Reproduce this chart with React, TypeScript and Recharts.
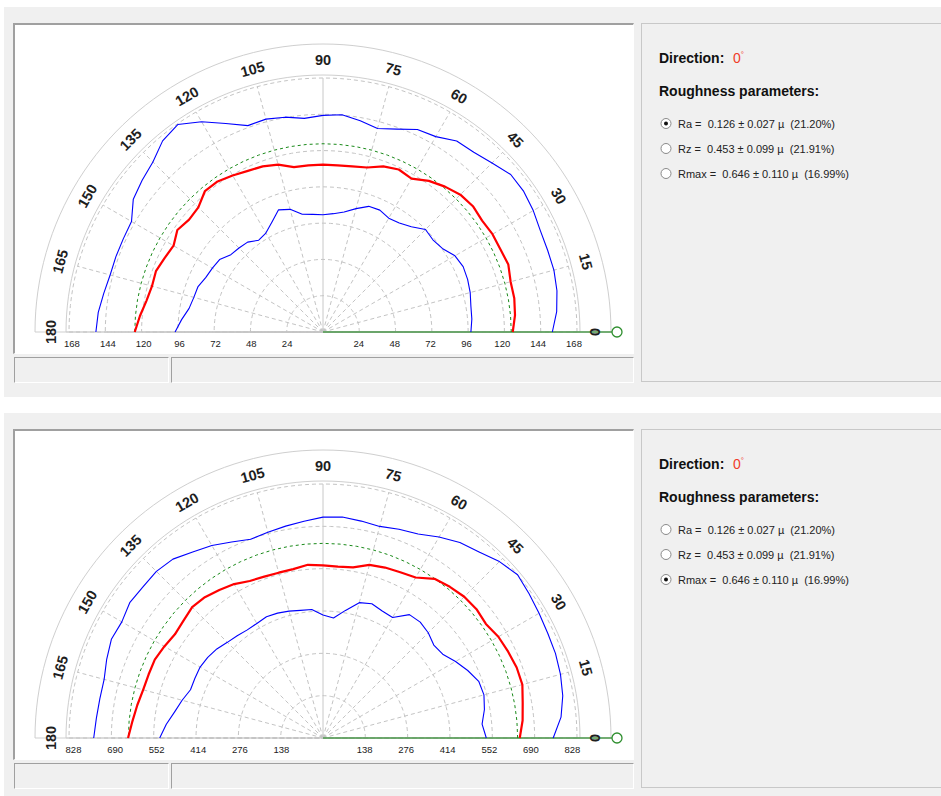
import React from 'react';
import { RadarChart, Radar, PolarGrid, PolarAngleAxis, PolarRadiusAxis } from 'recharts';

// directions, degrees
const ANGLES = [
  0, 5, 10, 15, 20, 25, 30, 35, 40, 45, 50, 55, 60, 65, 70, 75, 80, 85, 90,
  95, 100, 105, 110, 115, 120, 125, 130, 135, 140, 145, 150, 155, 160, 165, 170, 175, 180,
];
const ANGLE_TICKS = [0, 15, 30, 45, 60, 75, 90, 105, 120, 135, 150, 165, 180];

// Ra, nm
const RA_TICKS = [24, 48, 72, 96, 120, 144, 168];
const RA_MEAN = 126;
const RA_UPPER = [
  153.5, 157, 159, 160, 160, 160.5, 162.5, 164, 164, 160, 157, 156, 151, 149.5, 144.5, 141, 143.5, 146, 145,
  143.5, 146, 147.5, 147, 154, 162.5, 169.5, 167, 161, 158, 155, 148, 147.5, 147.5, 147.5, 149, 151, 152,
];
const RA_LOWER = [
  99, 100, 100.5, 102, 103, 103.5, 102, 97.5, 96, 97, 92, 89, 88, 90, 89.5, 85.5, 81.5, 79.5, 78.5,
  79, 80, 85, 87, 81, 76.5, 75, 78.5, 79.5, 80.5, 84.5, 85.5, 86.5, 89, 89.5, 91, 95, 99,
];
const RA_VALUES = [
  127, 129, 130, 130, 132, 131, 131, 130, 131, 130, 127, 123.5, 118.5, 120, 118, 114, 112.5, 112, 112,
  112, 112, 116, 118, 119, 121, 123, 123, 118, 117, 119, 115.5, 117, 119, 118.5, 120, 123, 126,
];

// Rmax, nm
const RMAX_TICKS = [138, 276, 414, 552, 690, 828];
const RMAX_MEAN = 646;
const RMAX_UPPER = [
  764, 793, 808, 816, 821, 823, 828, 835, 843, 828, 806, 792, 770, 747, 737, 727, 731, 736, 733,
  722, 714, 707, 702, 718, 738, 754, 775, 782, 780, 783, 771, 775, 764, 752, 752, 755, 761,
];
const RMAX_LOWER = [
  542, 530, 544, 553, 550, 530, 508, 485, 480, 494, 502, 500, 462, 465, 474, 465, 430, 400, 408,
  428, 430, 436, 441, 444, 439, 438, 443, 449, 460, 467, 471, 469, 468, 484, 500, 522, 542,
];
const RMAX_VALUES = [
  653, 665, 673, 685, 684, 678, 672, 660, 665, 663, 655, 645, 615, 607, 602, 595, 575, 571, 573,
  577, 569, 568, 570, 575, 590, 600, 610, 614, 605, 600, 608, 616, 616, 618, 626, 635, 647,
];

const PARAM_NAMES = ['Ra =', 'Rz =', 'Rmax ='];
const PARAM_VALUES = ['0.126 ± 0.027 µ', '0.453 ± 0.099 µ', '0.646 ± 0.110 µ'];
const PARAM_SPREAD = ['(21.20%)', '(21.91%)', '(16.99%)'];

const CW = 618;
const CH = 329;
const CX = 308;
const CY = 308;
const R = 254;
const FINE = Array.from({ length: 91 }, (_, i) => i * 2);
const LABEL_FONT = '"Liberation Sans", Arial, sans-serif';

const AngleTick = (props: any) => {
  const { x, y, payload } = props;
  const v = payload.value;
  return (
    <text
      x={x}
      y={y}
      transform={`rotate(${90 - v} ${x} ${y})`}
      textAnchor="middle"
      dominantBaseline="central"
      fontFamily={LABEL_FONT}
      fontSize={14.5}
      fontWeight="bold"
      fill="#1e1e1e"
    >
      {v}
    </text>
  );
};

// the same radius ticks are shown on both sides of the centre
const RadiusTick = (props: any) => {
  const { x, y, payload } = props;
  return (
    <g>
      <text x={x} y={y + 15} textAnchor="middle" fontFamily={LABEL_FONT} fontSize={9.5} fill="#222">
        {payload.value}
      </text>
      <text x={2 * CX - x} y={y + 15} textAnchor="middle" fontFamily={LABEL_FONT} fontSize={9.5} fill="#222">
        {payload.value}
      </text>
    </g>
  );
};

// half-circle curve: draw the radar points as an open path (no closing segment)
const OpenCurve = (props: any) => {
  const { points, stroke, strokeWidth, strokeDasharray } = props;
  const pts = (points || []).filter((p: any) => Number.isFinite(p.x) && Number.isFinite(p.y));
  const d = pts.map((p: any, i: number) => `${i ? 'L' : 'M'}${p.x},${p.y}`).join('');
  return (
    <path
      d={d}
      fill="none"
      stroke={stroke}
      strokeWidth={strokeWidth}
      strokeDasharray={strokeDasharray}
      strokeLinejoin="round"
    />
  );
};

type PolarProps = {
  ticks: number[];
  mean: number;
  upper: number[];
  lower: number[];
  values: number[];
};

const PolarPlot = ({ ticks, mean, upper, lower, values }: PolarProps) => {
  const max = ticks[ticks.length - 1];
  const rows = ANGLES.map((a, i) => ({
    angle: a,
    upper: upper[i],
    lower: lower[i],
    value: values[i],
    mean,
  }));
  const rings = ticks.map((t) => (t / max) * R);

  return (
    <RadarChart
      width={CW}
      height={CH}
      data={rows}
      cx={CX}
      cy={CY}
      outerRadius={R}
      startAngle={0}
      endAngle={180}
      margin={{ top: 0, right: 0, bottom: 0, left: 0 }}
    >
      <PolarGrid gridType="polygon" polarAngles={FINE} polarRadius={[R + 3, R + 34]} radialLines={false} stroke="#cfcfcf" />
      <PolarGrid gridType="polygon" polarAngles={FINE} polarRadius={rings} radialLines={false} stroke="#c4c4c4" strokeDasharray="4 3" />
      <PolarGrid polarAngles={ANGLE_TICKS.filter((a) => a % 90 !== 0)} polarRadius={[]} stroke="#c4c4c4" strokeDasharray="4 3" />
      <PolarGrid polarAngles={[90]} polarRadius={[]} stroke="#c8c8c8" />
      <PolarAngleAxis
        dataKey="angle"
        type="number"
        domain={[0, 180]}
        ticks={ANGLE_TICKS as any}
        tickCount={13}
        axisLine={false}
        tickLine={false}
        tickSize={18}
        tick={AngleTick}
      />
      <PolarRadiusAxis angle={0} type="number" domain={[0, max]} ticks={ticks as any} axisLine={false} tick={RadiusTick} />
      <line x1={CX} y1={CY} x2={CX + R + 35} y2={CY} stroke="#4c9a4c" strokeWidth={1.6} />
      <circle cx={CX + R + 40} cy={CY} r={5} fill="#fff" stroke="#2f8f2f" strokeWidth={1.3} />
      <Radar dataKey="mean" stroke="#1a8a1a" strokeWidth={1} strokeDasharray="3 3" fill="none" dot={false} shape={OpenCurve} isAnimationActive={false} />
      <Radar dataKey="upper" stroke="#0000ff" strokeWidth={1.1} fill="none" dot={false} shape={OpenCurve} isAnimationActive={false} />
      <Radar dataKey="lower" stroke="#0000ff" strokeWidth={1.1} fill="none" dot={false} shape={OpenCurve} isAnimationActive={false} />
      <Radar dataKey="value" stroke="#ff0000" strokeWidth={2.2} fill="none" dot={false} shape={OpenCurve} isAnimationActive={false} />
    </RadarChart>
  );
};

const SidePanel = ({ selected }: { selected: number }) => (
  <svg width={300} height={359} style={{ display: 'block' }}>
    <text x={17} y={39} fontFamily={LABEL_FONT} fontSize={14} fontWeight="bold" fill="#111">
      Direction:
    </text>
    <text x={91} y={39} fontFamily={LABEL_FONT} fontSize={14} fill="#f03c28">
      0<tspan fontSize={8} dy={-6}>°</tspan>
    </text>
    <text x={17} y={72} fontFamily={LABEL_FONT} fontSize={14} fontWeight="bold" fill="#111">
      Roughness parameters:
    </text>
    {PARAM_NAMES.map((name, i) => (
      <g key={name}>
        <circle cx={24} cy={99.5 + i * 25} r={5} fill="#fff" stroke="#8a8a8a" strokeWidth={1} />
        {i === selected && <circle cx={24} cy={99.5 + i * 25} r={2} fill="#111" />}
        <text x={36} y={104 + i * 25} fontFamily={LABEL_FONT} fontSize={11} fill="#222" style={{ whiteSpace: 'pre' }}>
          {`${name}  ${PARAM_VALUES[i]}  ${PARAM_SPREAD[i]}`}
        </text>
      </g>
    ))}
  </svg>
);

const sunken: React.CSSProperties = {
  position: 'absolute',
  boxSizing: 'border-box',
  borderTop: '1px solid #a0a0a0',
  borderLeft: '1px solid #a0a0a0',
  borderRight: '1px solid #ffffff',
  borderBottom: '1px solid #ffffff',
};

const Window = ({ top, height, selected, children }: any) => (
  <>
    <div style={{ position: 'absolute', left: 4, top, width: 940, height, background: '#f0f0f0' }} />
    <div
      style={{
        ...sunken,
        left: 13,
        top: top + 16,
        width: 621,
        height: 331,
        background: '#fff',
        borderTop: '2px solid #a0a0a0',
        borderLeft: '2px solid #a0a0a0',
      }}
    />
    <div style={{ position: 'absolute', left: 15, top: top + 17 }}>{children}</div>
    <div style={{ ...sunken, left: 14, top: top + 350, width: 155, height: 26 }} />
    <div style={{ ...sunken, left: 171, top: top + 350, width: 463, height: 26 }} />
    <div
      style={{
        position: 'absolute',
        left: 641,
        top: top + 16,
        width: 310,
        height: 359,
        boxSizing: 'border-box',
        border: '1px solid #c8c8c8',
        background: '#f0f0f0',
      }}
    >
      <SidePanel selected={selected} />
    </div>
  </>
);

export default function App() {
  return (
    <div
      style={{
        position: 'absolute',
        left: 0,
        top: 0,
        width: 941,
        height: 796,
        overflow: 'hidden',
        background: '#fff',
      }}
    >
      <Window top={7} height={390} selected={0}>
        <PolarPlot ticks={RA_TICKS} mean={RA_MEAN} upper={RA_UPPER} lower={RA_LOWER} values={RA_VALUES} />
      </Window>
      <Window top={413} height={400} selected={2}>
        <PolarPlot ticks={RMAX_TICKS} mean={RMAX_MEAN} upper={RMAX_UPPER} lower={RMAX_LOWER} values={RMAX_VALUES} />
      </Window>
    </div>
  );
}
